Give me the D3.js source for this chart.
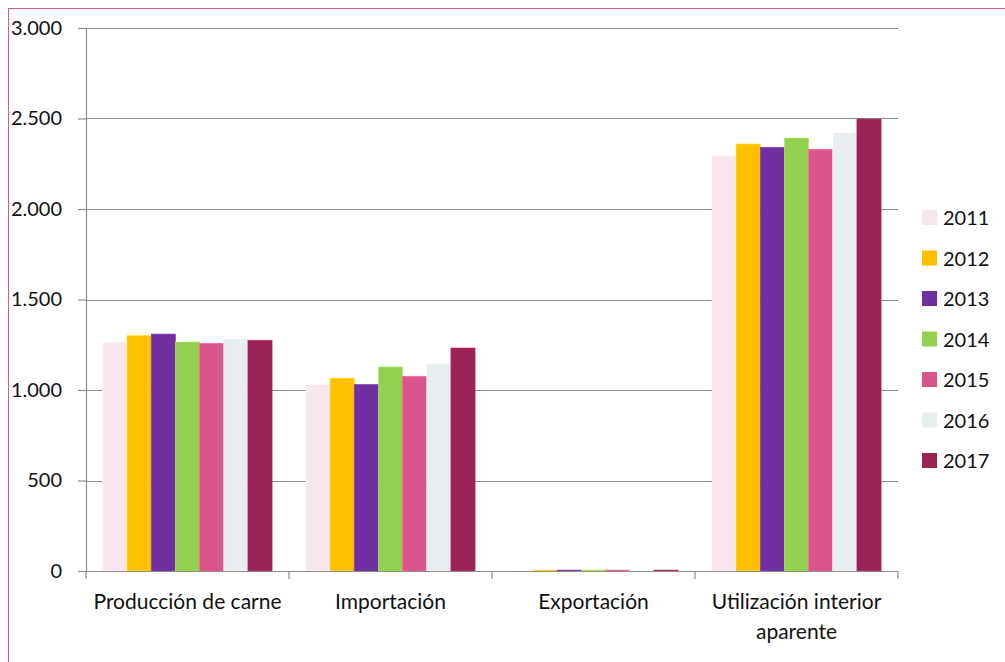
<!DOCTYPE html>
<html>
<head>
<meta charset="utf-8">
<script src="https://cdn.jsdelivr.net/npm/d3@7"></script>
<style>
  body { margin: 0; background: #fff; }
  svg text { font-family: Lato, "Liberation Sans", sans-serif; fill: #111; }
</style>
</head>
<body>
<div id="chart"></div>
<script>
// categories and series
const categories = ["Producción de carne", "Importación", "Exportación", "Utilización interior aparente"];
const categoryLines = [["Producción de carne"], ["Importación"], ["Exportación"], ["Utilización interior", "aparente"]];
const years = ["2011", "2012", "2013", "2014", "2015", "2016", "2017"];
const v2011 = [1265, 1031, 4, 2294];
const v2012 = [1300, 1065, 5, 2359];
const v2013 = [1309, 1031, 5, 2341];
const v2014 = [1265, 1127, 5, 2392];
const v2015 = [1258, 1076, 5, 2330];
const v2016 = [1282, 1144, 4, 2421];
const v2017 = [1275, 1232, 5, 2497];
const yTicks = [0, 500, 1000, 1500, 2000, 2500, 3000];
const colors = ["#F8E6EE", "#FFC000", "#7030A0", "#92D050", "#D9558C", "#E8EDF0", "#9B2255"];

const series = [v2011, v2012, v2013, v2014, v2015, v2016, v2017];

const W = 1005, H = 662;
const margin = { left: 86, top: 28, right: 107, bottom: 91 };
const width = W - margin.left - margin.right;
const height = H - margin.top - margin.bottom;

const svg = d3.select("#chart").append("svg")
    .attr("width", W).attr("height", H);

// outer border
svg.append("rect")
    .attr("x", 8.5).attr("y", 8.5)
    .attr("width", W).attr("height", H)
    .attr("fill", "none").attr("stroke", "#D9558C").attr("stroke-width", 1);

const g = svg.append("g").attr("transform", `translate(${margin.left},${margin.top})`);

const x0 = d3.scaleBand().domain(categories).range([0, width]);
const bw = x0.bandwidth() / 8.4;
const x1 = d3.scaleBand().domain(years)
    .range([0.7 * bw, x0.bandwidth() - 0.7 * bw]);

const y = d3.scaleLinear().domain([0, 3000]).range([height, 0]);

const fmt = d => d3.format(",")(d).replace(/,/g, ".");

// gridlines
g.append("g")
    .selectAll("line")
    .data(yTicks.filter(d => d > 0))
    .enter().append("line")
    .attr("x1", 0).attr("x2", width)
    .attr("y1", d => Math.round(y(d)) + 0.5).attr("y2", d => Math.round(y(d)) + 0.5)
    .attr("stroke", "#8c8c8c").attr("stroke-width", 1.2);

// bars
categories.forEach((c, ci) => {
    g.append("g")
        .attr("transform", `translate(${x0(c)},0)`)
        .selectAll("rect")
        .data(years.map((yr, i) => ({ yr, v: series[i][ci], color: colors[i] })))
        .enter().append("rect")
        .attr("x", d => x1(d.yr))
        .attr("y", d => y(d.v))
        .attr("width", x1.bandwidth())
        .attr("height", d => height - y(d.v))
        .attr("fill", d => d.color)
        .attr("stroke", d => d3.color(d.color).brighter(0.4))
        .attr("stroke-width", 0.6);
});

// y axis
const yAxis = g.append("g")
    .call(d3.axisLeft(y).tickValues(yTicks).tickFormat(fmt).tickSize(8).tickPadding(16));
yAxis.select(".domain").attr("stroke", "#8c8c8c").attr("stroke-width", 1.2);
yAxis.selectAll(".tick line").attr("stroke", "#8c8c8c").attr("stroke-width", 1.2);
yAxis.selectAll(".tick text").attr("font-size", 20).attr("fill", "#111")
    .style("font-family", "Lato, 'Liberation Sans', sans-serif");

// x axis
const xAxis = g.append("g").attr("transform", `translate(0,${height})`);
xAxis.append("line")
    .attr("x1", 0).attr("x2", width).attr("y1", 0.5).attr("y2", 0.5)
    .attr("stroke", "#8c8c8c").attr("stroke-width", 1.2);
xAxis.selectAll("line.tk")
    .data(d3.range(categories.length + 1))
    .enter().append("line")
    .attr("class", "tk")
    .attr("x1", i => i * x0.step()).attr("x2", i => i * x0.step())
    .attr("y1", 0).attr("y2", 8)
    .attr("stroke", "#8c8c8c").attr("stroke-width", 1.2);

categories.forEach((c, ci) => {
    const t = xAxis.append("text")
        .attr("x", x0(c) + x0.bandwidth() / 2)
        .attr("text-anchor", "middle")
        .attr("font-size", 21);
    categoryLines[ci].forEach((line, li) => {
        t.append("tspan")
            .attr("x", x0(c) + x0.bandwidth() / 2)
            .attr("y", 38 + li * 30)
            .text(line);
    });
});

// legend
const legend = svg.append("g").attr("transform", "translate(922,210)");
years.forEach((yr, i) => {
    const row = legend.append("g").attr("transform", `translate(0,${i * 40.5})`);
    row.append("rect")
        .attr("width", 15).attr("height", 15)
        .attr("fill", colors[i]);
    row.append("text")
        .attr("x", 21).attr("y", 15)
        .attr("font-size", 20)
        .text(yr);
});
</script>
</body>
</html>
